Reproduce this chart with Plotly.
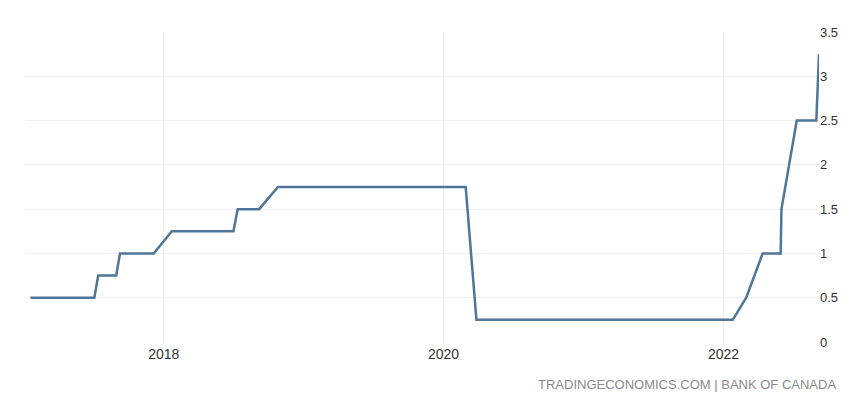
import plotly.graph_objects as go

# Bank of Canada policy rate (%), vertices
dates = [
    "2017-01-18", "2017-07-04", "2017-07-14", "2017-08-30", "2017-09-09",
    "2017-12-06", "2018-01-22", "2018-07-02", "2018-07-13", "2018-09-07",
    "2018-10-26", "2020-02-28", "2020-03-27", "2022-01-25", "2022-03-01",
    "2022-04-13", "2022-05-30", "2022-06-01", "2022-07-11", "2022-08-31",
    "2022-09-07",
]
rates = [
    0.5, 0.5, 0.75, 0.75, 1.0,
    1.0, 1.25, 1.25, 1.5, 1.5,
    1.75, 1.75, 0.25, 0.25, 0.5,
    1.0, 1.0, 1.5, 2.5, 2.5,
    3.25,
]

x_ticks = ["2018-01-01", "2020-01-01", "2022-01-01"]
x_tick_labels = ["2018", "2020", "2022"]
y_ticks = [0, 0.5, 1, 1.5, 2, 2.5, 3, 3.5]
y_tick_labels = ["0", "0.5", "1", "1.5", "2", "2.5", "3", "3.5"]
source_text = "TRADINGECONOMICS.COM | BANK OF CANADA"

# the page body has an 8px margin, so the figure is drawn at (8, 8)
W, H = 860, 392
L, R, T, B = 17, 49, 24, 58

fig = go.Figure()
fig.add_trace(go.Scatter(
    x=dates, y=rates, mode="lines",
    line=dict(color="#4f7699", width=2.5),
    hoverinfo="x+y",
))

fig.update_layout(
    width=W, height=H,
    margin=dict(l=L, r=R, t=T, b=B, autoexpand=False),
    paper_bgcolor="white", plot_bgcolor="white",
    showlegend=False,
    font=dict(family="Liberation Sans, Arial, sans-serif", color="#333333", size=13),
    xaxis=dict(
        type="date",
        range=["2017-01-04", "2022-09-07"],
        tickvals=x_ticks, ticktext=x_tick_labels,
        showgrid=True, gridcolor="#f1f1f1", gridwidth=1,
        zeroline=False, showline=False, ticks="",
        automargin=False,
        ticklabelstandoff=2,
        tickfont=dict(size=14, color="#333333"),
    ),
    yaxis=dict(
        side="right",
        range=[0, 3.5],
        tickvals=y_ticks, ticktext=y_tick_labels,
        showgrid=True, gridcolor="#f1f1f1", gridwidth=1,
        zeroline=False, showline=False, ticks="",
        automargin=False,
        tickfont=dict(size=13, color="#333333"),
    ),
    annotations=[dict(
        text=source_text, xref="paper", yref="paper",
        x=(838 - 8 - L) / (W - L - R), y=(334 - 376) / (H - T - B),
        xanchor="right", yanchor="middle", showarrow=False,
        font=dict(size=13, color="#8a8a8a", family="Liberation Sans, Arial, sans-serif"),
    )],
)

fig.write_html("out.html")
